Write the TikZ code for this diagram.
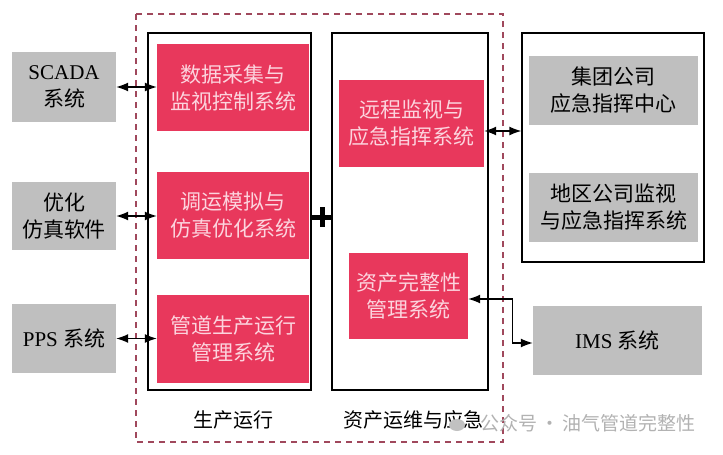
\documentclass[tikz,border=0pt]{standalone}
\usepackage{fontspec}
\setmainfont{Liberation Serif}
\newfontfamily\cjk{Noto Sans CJK SC}
\usetikzlibrary{arrows.meta}
\definecolor{boxred}{RGB}{232,56,92}
\definecolor{boxtext}{RGB}{252,212,222}
\definecolor{boxgray}{RGB}{191,191,191}
\definecolor{dashcol}{RGB}{160,72,92}
\definecolor{wmgray}{RGB}{178,178,178}
\tikzset{
  redbox/.style={fill=boxred, text=boxtext, align=center, inner sep=0pt,
    font=\cjk\fontsize{21}{27}\selectfont},
  graybox/.style={fill=boxgray, text=black, align=center, inner sep=0pt,
    font=\fontsize{21}{27}\selectfont},
  framebox/.style={draw=black, line width=1.3pt, inner sep=0pt},
  biarrow/.style={line width=1.3pt, {Latex[length=12pt,width=9pt]}-{Latex[length=12pt,width=9pt]}},
  labeltext/.style={font=\cjk\fontsize{20}{24}\selectfont, text=black},
}
\begin{document}
\begin{tikzpicture}[x=1pt,y=-1pt]
\useasboundingbox[fill=white] (0,0) rectangle (723,455);

% dashed outline
\draw[dashcol, line width=2.6pt, dash pattern=on 6pt off 5pt] (136,14) rectangle (503,442);

% frames
\node[framebox, minimum width=163, minimum height=357] (fL) at (229.5,211.5) {};
\node[framebox, minimum width=156, minimum height=357] (fM) at (410,211.5) {};
\node[framebox, minimum width=182, minimum height=229] (fR) at (613,147.5) {};

% left gray boxes
\node[graybox, minimum width=104, minimum height=70] (scada) at (64,87) {SCADA\\{\cjk 系统}};
\node[graybox, minimum width=104, minimum height=68, font=\cjk\fontsize{21}{27}\selectfont] (opt) at (64,216) {优化\\仿真软件};
\node[graybox, minimum width=104, minimum height=69] (pps) at (64,338.5) {PPS {\cjk 系统}};

% left red boxes
\node[redbox, minimum width=152, minimum height=87] (daq) at (233,87.5) {数据采集与\\监视控制系统};
\node[redbox, minimum width=152, minimum height=87] (sim) at (233,215.5) {调运模拟与\\仿真优化系统};
\node[redbox, minimum width=152, minimum height=88] (ppm) at (233,339) {管道生产运行\\管理系统};

% middle red boxes
\node[redbox, minimum width=145, minimum height=87] (remote) at (411.5,123.5) {远程监视与\\应急指挥系统};
\node[redbox, minimum width=119, minimum height=86] (asset) at (408.5,296) {资产完整性\\管理系统};

% right gray boxes
\node[graybox, minimum width=169, minimum height=69, font=\cjk\fontsize{21}{27}\selectfont] (group) at (613.5,90.5) {集团公司\\应急指挥中心};
\node[graybox, minimum width=169, minimum height=69, font=\cjk\fontsize{21}{27}\selectfont] (region) at (613.5,207.5) {地区公司监视\\与应急指挥系统};
\node[graybox, minimum width=169, minimum height=69] (ims) at (617.5,340.5) {IMS {\cjk 系统}};

% labels
\node[labeltext] (lblL) at (233,420) {生产运行};
\node[labeltext] (lblM) at (413,420) {资产运维与应急};

% plus sign
\fill (312,214.5) rectangle (332,219.5);
\fill (319.5,207) rectangle (324.5,227);

% connectors
\draw[biarrow] (scada.east) -- (scada.east -| daq.west);
\draw[biarrow] (opt.east) -- (opt.east -| sim.west);
\draw[biarrow] (pps.east) -- (pps.east -| ppm.west);
\draw[biarrow] ([yshift=-7.5pt]remote.east) -- ([yshift=-7.5pt]remote.east -| fR.west);
\draw[biarrow] ([yshift=-3pt]asset.east) -- ++(44,0) |- ([yshift=-2.5pt]ims.west);

% watermark
\fill[wmgray!80] (457,425) ellipse (8 and 6);
\node[anchor=east, text=wmgray, font=\cjk\fontsize{19}{24}\selectfont] (wm) at (699,423) {公众号\,·\,油气管道完整性};
\end{tikzpicture}
\end{document}
